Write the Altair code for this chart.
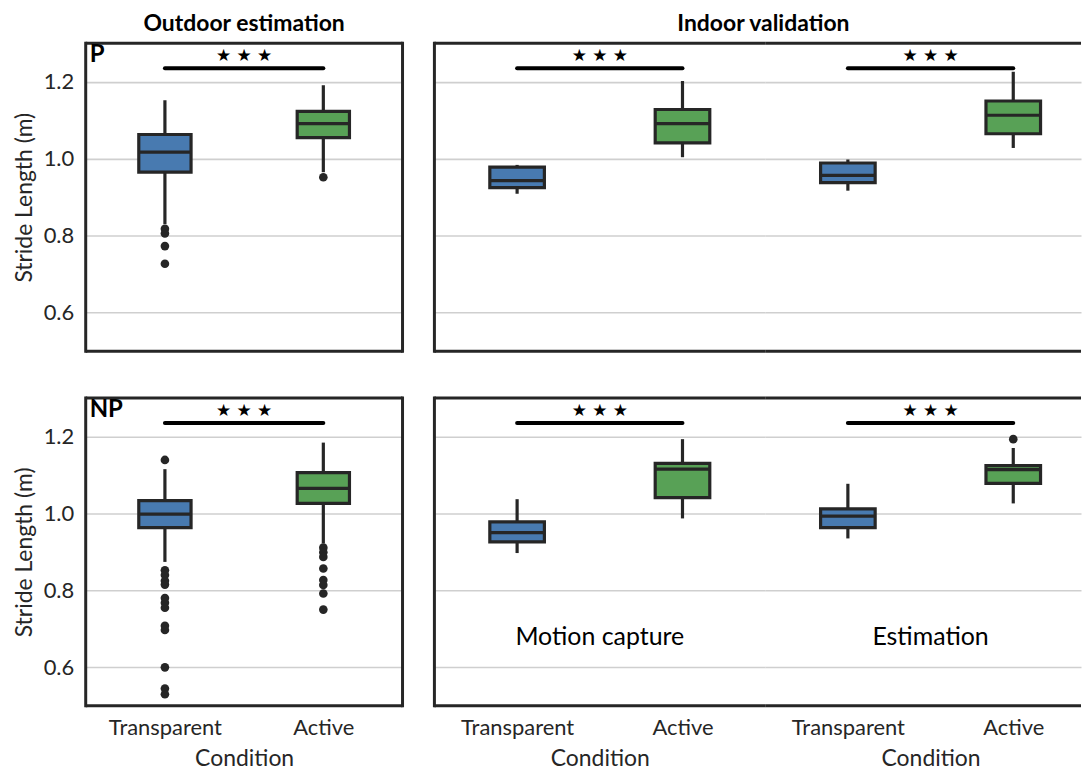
import altair as alt
import pandas as pd

FONT = "Lato"
DARK = "#262626"

conditions = ["Transparent", "Active"]
condition_pos = [0, 1]
box_colors = ["#487ab0", "#58a156"]
y_ticks = [0.6, 0.8, 1.0, 1.2]
y_domain = [0.5, 1.3]

# ---- Outdoor estimation, P ----
out_p_low = [0.830, 0.965]
out_p_q1 = [0.965, 1.055]
out_p_med = [1.017, 1.091]
out_p_q3 = [1.063, 1.123]
out_p_high = [1.152, 1.191]
out_p_fliers_t = [0.818, 0.806, 0.773, 0.727]
out_p_fliers_a = [0.952]

# ---- Outdoor estimation, NP ----
out_np_low = [0.874, 0.922]
out_np_q1 = [0.963, 1.026]
out_np_med = [0.998, 1.065]
out_np_q3 = [1.033, 1.106]
out_np_high = [1.115, 1.184]
out_np_fliers_t = [1.139, 0.852, 0.840, 0.825, 0.815, 0.780, 0.768, 0.755,
                   0.708, 0.697, 0.600, 0.545, 0.530]
out_np_fliers_a = [0.911, 0.899, 0.887, 0.857, 0.827, 0.814, 0.792, 0.750]

# ---- Indoor validation, motion capture, P ----
mc_p_low = [0.909, 1.004]
mc_p_q1 = [0.925, 1.041]
mc_p_med = [0.943, 1.091]
mc_p_q3 = [0.978, 1.128]
mc_p_high = [0.984, 1.202]

# ---- Indoor validation, estimation, P ----
est_p_low = [0.917, 1.028]
est_p_q1 = [0.938, 1.065]
est_p_med = [0.957, 1.113]
est_p_q3 = [0.989, 1.150]
est_p_high = [0.998, 1.226]

# ---- Indoor validation, motion capture, NP ----
mc_np_low = [0.897, 0.987]
mc_np_q1 = [0.926, 1.041]
mc_np_med = [0.950, 1.115]
mc_np_q3 = [0.978, 1.130]
mc_np_high = [1.037, 1.193]

# ---- Indoor validation, estimation, NP ----
est_np_low = [0.935, 1.026]
est_np_q1 = [0.963, 1.078]
est_np_med = [0.993, 1.114]
est_np_q3 = [1.012, 1.124]
est_np_high = [1.077, 1.170]
est_np_fliers_a = [1.193]

# significance bars (between the two conditions) and star labels
sig_bar_y = [1.235]
sig_star_y = [1.266]
sig_text = "\u2605 \u2605 \u2605"
note_y = [0.68]

H = 309
PX_PER_UNIT = 166
HALF_BOX = 0.165


def panel(low, q1, med, q3, high, fl_t, fl_a, width, xdom, y_on, x_on,
          sides, corner=None, note=None, title_x=None):
    xs = alt.Scale(domain=xdom, nice=False, zero=False)
    ys = alt.Scale(domain=y_domain, nice=False, zero=False)
    if x_on:
        ax_kw = dict(values=condition_pos, labelExpr="datum.value == 0 ? 'Transparent' : 'Active'",
                     title="Condition", grid=False, ticks=False, domain=False, labelFlush=False,
                     labelPadding=12, titlePadding=9, labelFontSize=22, titleFontSize=23,
                     titleFontWeight="normal")
        if title_x is not None:
            ax_kw["titleX"] = title_x
        xaxis = alt.Axis(**ax_kw)
    else:
        xaxis = None
    if y_on:
        yaxis = alt.Axis(values=y_ticks, format=".1f", title="Stride Length (m)", grid=True,
                         ticks=False, domain=False, labelPadding=12, titlePadding=7,
                         labelFontSize=22, titleFontSize=23, titleFontWeight="normal")
    else:
        yaxis = alt.Axis(values=y_ticks, labels=False, title=None, grid=True, ticks=False,
                         domain=False)

    def X(f):
        return alt.X(f, type="quantitative", scale=xs, axis=xaxis)

    def Y(f):
        return alt.Y(f, type="quantitative", scale=ys, axis=yaxis)

    df = pd.DataFrame({"pos": condition_pos, "cond": conditions, "low": low, "q1": q1,
                       "med": med, "q3": q3, "high": high})
    base = alt.Chart(df)
    boxed = base.transform_calculate(xl=f"datum.pos - {HALF_BOX}", xr=f"datum.pos + {HALF_BOX}")
    layers = []
    layers.append(base.mark_rule(color=DARK, strokeWidth=3.2).encode(
        x=X("pos"), y=Y("low"), y2="high"))
    layers.append(boxed.mark_rect(stroke=DARK, strokeWidth=3.2, opacity=1).encode(
        x=X("xl"), x2="xr", y=Y("q1"), y2="q3",
        fill=alt.Fill("cond:N", scale=alt.Scale(domain=conditions, range=box_colors), legend=None)))
    layers.append(boxed.mark_rule(color=DARK, strokeWidth=3.2).encode(
        x=X("xl"), x2="xr", y=Y("med")))
    fl_vals = list(fl_t) + list(fl_a)
    if fl_vals:
        fl = pd.DataFrame({"pos": [0] * len(fl_t) + [1] * len(fl_a), "val": fl_vals})
        layers.append(alt.Chart(fl).mark_circle(size=75, color=DARK, opacity=1).encode(
            x=X("pos"), y=Y("val")))
    sig = pd.DataFrame({"a": [condition_pos[0]], "b": [condition_pos[1]], "y": sig_bar_y})
    layers.append(alt.Chart(sig).mark_rule(color="black", strokeWidth=4, strokeCap="round").encode(
        x=X("a"), x2="b", y=Y("y")))
    st = pd.DataFrame({"x": [(condition_pos[0] + condition_pos[1]) / 2], "y": sig_star_y})
    layers.append(alt.Chart(st).mark_text(text=sig_text, font="DejaVu Sans", fontSize=17,
                                          color="black", baseline="middle").encode(
        x=X("x"), y=Y("y")))
    if note:
        nt = pd.DataFrame({"x": [(condition_pos[0] + condition_pos[1]) / 2], "y": note_y, "t": [note]})
        layers.append(alt.Chart(nt).mark_text(font=FONT, fontSize=25, color="black",
                                              baseline="middle").encode(
            x=X("x"), y=Y("y"), text="t:N"))
    one = pd.DataFrame({"k": [0]})
    fr = alt.Chart(one)
    if "top" in sides:
        layers.append(fr.mark_rule(color=DARK, strokeWidth=3, strokeCap="butt").encode(
            x=alt.value(0), x2=alt.value(width), y=alt.value(0)))
    if "bottom" in sides:
        layers.append(fr.mark_rule(color=DARK, strokeWidth=3, strokeCap="butt").encode(
            x=alt.value(0), x2=alt.value(width), y=alt.value(H)))
    if "left" in sides:
        layers.append(fr.mark_rule(color=DARK, strokeWidth=3, strokeCap="square").encode(
            x=alt.value(0), y=alt.value(0), y2=alt.value(H)))
    if "right" in sides:
        layers.append(fr.mark_rule(color=DARK, strokeWidth=3, strokeCap="square").encode(
            x=alt.value(width), y=alt.value(0), y2=alt.value(H)))
    if corner:
        layers.append(fr.mark_text(text=corner, font=FONT, fontSize=24, fontWeight="bold",
                                   color="black", align="left", baseline="top").encode(
            x=alt.value(4), y=alt.value(0)))
    return alt.layer(*layers).properties(width=width, height=H)


WL = 318
WM = 332
WR = 317
left_dom = [-0.5, 1.5]
mid_dom = [-0.5, -0.5 + WM / PX_PER_UNIT]
right_dom = [-0.5, -0.5 + WR / PX_PER_UNIT]
right_title_x = PX_PER_UNIT

title_kw = dict(fontSize=23, fontWeight="bold", font=FONT, anchor="middle", offset=5, color="black")

lt = panel(out_p_low, out_p_q1, out_p_med, out_p_q3, out_p_high, out_p_fliers_t, out_p_fliers_a,
           WL, left_dom, True, False, ["top", "bottom", "left", "right"], corner="P"
           ).properties(title=alt.TitleParams("Outdoor estimation", **title_kw))
mt = panel(mc_p_low, mc_p_q1, mc_p_med, mc_p_q3, mc_p_high, [], [],
           WM, mid_dom, False, False, ["top", "bottom", "left"])
rt = panel(est_p_low, est_p_q1, est_p_med, est_p_q3, est_p_high, [], [],
           WR, right_dom, False, False, ["top", "bottom"])

lb = panel(out_np_low, out_np_q1, out_np_med, out_np_q3, out_np_high, out_np_fliers_t, out_np_fliers_a,
           WL, left_dom, True, True, ["top", "bottom", "left", "right"], corner="NP")
mb = panel(mc_np_low, mc_np_q1, mc_np_med, mc_np_q3, mc_np_high, [], [],
           WM, mid_dom, False, True, ["top", "bottom", "left"], note="Motion capture")
rb = panel(est_np_low, est_np_q1, est_np_med, est_np_q3, est_np_high, [], est_np_fliers_a,
           WR, right_dom, False, True, ["top", "bottom"], note="Estimation", title_x=right_title_x)

indoor_top = alt.hconcat(mt, rt, spacing=0, bounds="flush").properties(
    title=alt.TitleParams("Indoor validation", dx=6, **title_kw))
indoor_bot = alt.hconcat(mb, rb, spacing=0, bounds="flush")

row1 = alt.hconcat(lt, indoor_top, spacing=26)
row2 = alt.hconcat(lb, indoor_bot, spacing=26)

chart = alt.vconcat(row1, row2, spacing=41).properties(
    padding={"left": 4, "top": 3, "right": 0, "bottom": 0}
).configure(font=FONT).configure_view(stroke="transparent").configure_axis(
    labelFont=FONT, titleFont=FONT, labelColor=DARK, titleColor=DARK,
    gridColor="#cfcfcf", gridWidth=1.6
)

chart.save("out.html", embed_options={"renderer": "svg", "actions": False})
